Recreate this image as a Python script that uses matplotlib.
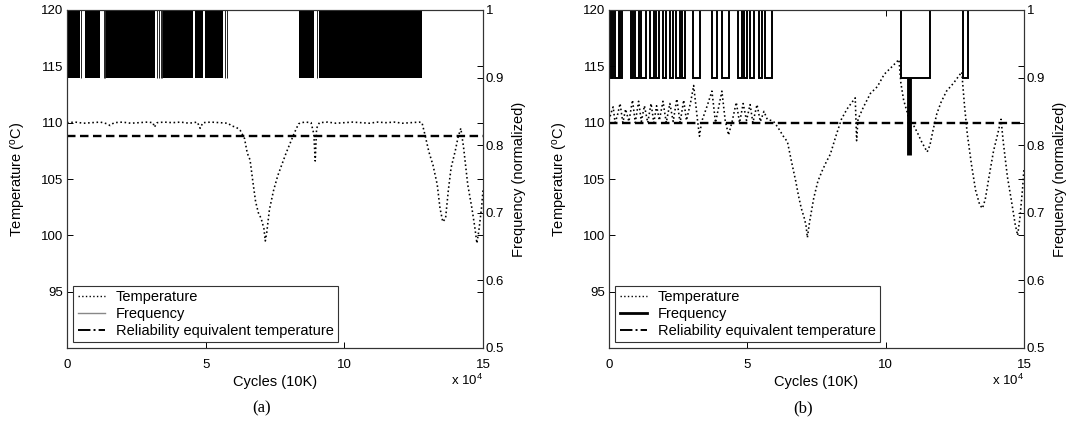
import matplotlib
matplotlib.use("Agg")
import matplotlib.pyplot as plt
from matplotlib.lines import Line2D

plt.rcParams['font.family'] = ['Liberation Sans', 'DejaVu Sans']
plt.rcParams['mathtext.fontset'] = 'custom'
plt.rcParams['mathtext.rm'] = 'Liberation Sans'
plt.rcParams['mathtext.it'] = 'Liberation Sans:italic'

# ---- panel (a) ----
temp_a_x = [0.0, 0.3, 0.6, 0.9, 1.2, 1.45, 1.55, 1.7, 2.0, 2.3, 2.6, 2.9, 3.1, 3.15, 3.25,
            3.5, 3.8, 4.1, 4.4, 4.7, 4.8, 4.9, 5.2, 5.5, 5.8, 5.95, 6.1, 6.25, 6.4, 6.5,
            6.6, 6.7, 6.8, 6.9, 7.0, 7.1, 7.15, 7.2, 7.3, 7.45, 7.6, 7.75, 7.9, 8.05, 8.2,
            8.35, 8.45, 8.6, 8.8, 8.9, 8.95, 9.0, 9.1, 9.4, 9.7, 10.0, 10.3, 10.6, 10.9,
            11.2, 11.5, 11.8, 12.1, 12.4, 12.7, 12.8, 12.9, 13.05, 13.2, 13.35, 13.45,
            13.55, 13.65, 13.75, 13.85, 14.0, 14.1, 14.2, 14.3, 14.45, 14.6, 14.7, 14.78,
            14.85, 14.95, 15.0]
temp_a_y = [110.0, 110.05, 109.95, 110.0, 110.05, 109.9, 109.75, 110.0, 110.05, 109.95,
            110.0, 110.05, 110.0, 109.6, 110.0, 110.05, 110.0, 110.05, 109.95, 110.05,
            109.5, 110.0, 110.05, 110.0, 109.95, 109.7, 109.6, 109.3, 108.6, 107.3, 106.7,
            104.8, 103.0, 102.0, 101.5, 100.6, 99.5, 100.2, 102.3, 104.0, 105.3, 106.3,
            107.3, 108.2, 109.1, 109.9, 110.0, 110.05, 110.0, 109.0, 106.6, 109.5, 110.0,
            110.05, 109.95, 110.0, 110.05, 110.0, 109.95, 110.05, 110.0, 110.05, 109.95,
            110.0, 110.05, 110.0, 109.0, 107.4, 106.2, 104.5, 102.4, 101.2, 101.5, 104.0,
            106.0, 107.5, 108.7, 109.5, 107.8, 104.5, 102.4, 100.8, 99.3, 100.4, 102.5,
            104.0]
rel_temp_a = 108.8
# dense 1 <-> 0.9 switching regions
blocks_a_start = [0.05, 0.66, 1.41, 3.47, 4.62, 4.96, 8.38, 9.09]
blocks_a_end = [0.47, 1.19, 3.19, 4.53, 4.89, 5.61, 8.92, 12.79]
single_switch_a = [0.52, 1.33, 1.38, 3.23, 3.31, 3.38, 3.44, 5.70, 5.76, 9.0]

# ---- panel (b) ----
temp_b_x = [0.0, 0.08, 0.15, 0.22, 0.3, 0.4, 0.5, 0.6, 0.72, 0.85, 0.95, 1.07, 1.17, 1.28,
            1.4, 1.52, 1.62, 1.72, 1.82, 1.95, 2.07, 2.2, 2.32, 2.45, 2.57, 2.7, 2.8, 2.95,
            3.06, 3.2, 3.27, 3.35, 3.55, 3.72, 3.85, 3.95, 4.08, 4.2, 4.32, 4.45, 4.6, 4.72,
            4.85, 4.97, 5.1, 5.2, 5.35, 5.47, 5.6, 5.72, 5.85, 5.95, 6.1, 6.3, 6.45, 6.6,
            6.75, 6.85, 6.95, 7.05, 7.12, 7.17, 7.25, 7.4, 7.55, 7.7, 7.85, 8.0, 8.2, 8.4,
            8.6, 8.9, 8.95, 9.0, 9.2, 9.45, 9.7, 9.95, 10.2, 10.48, 10.55, 10.65, 10.78,
            10.85, 11.0, 11.15, 11.3, 11.5, 11.6, 11.7, 11.85, 12.0, 12.2, 12.45, 12.6,
            12.75, 12.85, 12.95, 13.1, 13.25, 13.4, 13.5, 13.6, 13.75, 13.9, 14.05, 14.17,
            14.25, 14.4, 14.55, 14.68, 14.77, 14.85, 14.95, 15.0]
temp_b_y = [110.2, 110.9, 111.4, 110.0, 110.6, 111.7, 110.0, 111.2, 110.1, 112.0, 110.0,
            111.9, 110.1, 111.5, 110.0, 111.7, 110.0, 111.5, 110.2, 111.9, 110.0, 111.7,
            110.1, 112.1, 110.0, 112.0, 110.2, 111.8, 113.3, 110.2, 108.8, 110.1, 111.5,
            112.8, 110.0, 111.2, 112.8, 110.2, 108.9, 110.1, 111.8, 110.0, 111.7, 110.2,
            111.6, 110.0, 111.6, 110.1, 111.0, 110.3, 110.2, 110.1, 109.6, 108.8, 108.3,
            106.5, 104.8, 103.5, 102.4, 101.6, 100.9, 99.8, 101.2, 103.3, 104.8, 105.7,
            106.5, 107.2, 108.8, 110.3, 111.2, 112.2, 108.4, 110.3, 111.4, 112.6, 113.2,
            114.3, 114.9, 115.6, 113.5, 112.0, 110.9, 110.2, 109.8, 109.1, 108.3, 107.4,
            108.0, 109.2, 110.8, 111.8, 112.8, 113.5, 114.0, 114.5, 111.5, 109.0, 106.3,
            104.0, 102.7, 102.4, 103.2, 105.4, 107.5, 109.0, 110.3, 108.3, 105.2, 103.0,
            101.0, 100.0, 101.5, 104.2, 106.0]
rel_temp_b = 110.0
# intervals where frequency drops from 1 to 0.9
down_b_start = [0.06, 0.23, 0.40, 0.79, 0.95, 1.17, 1.49, 1.70, 1.94, 2.19, 2.43, 2.64,
                3.03, 3.71, 4.09, 4.67, 4.87, 5.08, 5.42, 5.64, 10.54, 12.78]
down_b_end = [0.16, 0.35, 0.47, 0.88, 1.07, 1.32, 1.61, 1.80, 2.07, 2.31, 2.55, 2.76,
              3.30, 3.90, 4.34, 4.79, 4.99, 5.23, 5.53, 5.88, 11.59, 12.98]
dip_b_x = 10.84
dip_b_low = 0.785

fig = plt.figure(figsize=(10.82, 4.22), dpi=100)
ax_a = fig.add_axes([67 / 1082, 74 / 422, 416 / 1082, 338 / 422])
ax_b = fig.add_axes([609 / 1082, 74 / 422, 415 / 1082, 338 / 422])

spine_c = '#333333'


def style(ax, ax2):
    ax.set_xlim(0, 15)
    ax.set_ylim(90, 120)
    ax.set_xticks([0, 5, 10, 15])
    ax.set_xticklabels(['0', '5', '10', '15'])
    ax.set_yticks([95, 100, 105, 110, 115, 120])
    ax.tick_params(direction='in', top=True, right=True, length=4, width=0.7,
                   labelsize=9.5, colors='black', pad=3)
    ax.tick_params(axis='x', pad=8)
    ax2.set_ylim(0.5, 1.0)
    ax2.set_yticks([0.5, 0.6, 0.7, 0.8, 0.9, 1.0])
    ax2.set_yticklabels(['0.5', '0.6', '0.7', '0.8', '0.9', '1'])
    ax2.tick_params(direction='in', length=4, width=0.7, labelsize=9.5, pad=2)
    for a in (ax, ax2):
        for s in a.spines.values():
            s.set_color(spine_c)
            s.set_linewidth(0.8)
    ax.set_xlabel('Cycles (10K)', fontsize=10.5, labelpad=3)
    ax.set_ylabel(r'Temperature ($^{\rm o}$C)', fontsize=10.5, labelpad=9)
    ax2.set_ylabel('Frequency (normalized)', fontsize=10.5, labelpad=6)
    ax.text(1.0, -0.095, r'x 10$^4$', transform=ax.transAxes, ha='right', va='center',
            fontsize=9.5)


# panel (a)
ax2_a = ax_a.twinx()
ax_a.plot(temp_a_x, temp_a_y, ':', color='black', lw=1.15)
ax_a.plot([0, 15], [rel_temp_a, rel_temp_a], color='black', lw=1.7, dashes=(3.6, 1.9))
for s, e in zip(blocks_a_start, blocks_a_end):
    ax2_a.fill_between([s, e], 0.9, 1.0, color='black', lw=0)
ax2_a.vlines(single_switch_a, 0.9, 1.0, color='black', lw=0.6)
style(ax_a, ax2_a)

# panel (b)
ax2_b = ax_b.twinx()
ax_b.plot(temp_b_x, temp_b_y, ':', color='black', lw=1.15)
ax_b.plot([0, 15], [rel_temp_b, rel_temp_b], color='black', lw=1.7, dashes=(3.6, 1.9))
fx, fy = [0.0], [1.0]
for s, e in zip(down_b_start, down_b_end):
    fx += [s, s, e, e]
    fy += [1.0, 0.9, 0.9, 1.0]
fx.append(15.0)
fy.append(1.0)
ax2_b.plot(fx, fy, color='black', lw=1.4, solid_joinstyle='miter')
ax2_b.vlines([dip_b_x], dip_b_low, 0.9, color='black', lw=3.5)
style(ax_b, ax2_b)

# legends
for ax2, freq_lw, freq_c in ((ax2_a, 1.0, '#888888'), (ax2_b, 2.0, 'black')):
    handles = [Line2D([], [], ls=':', color='black', lw=1.0),
               Line2D([], [], ls='-', color=freq_c, lw=freq_lw),
               Line2D([], [], ls='-.', color='black', lw=1.4)]
    leg = ax2.legend(handles, ['Temperature', 'Frequency',
                               'Reliability equivalent temperature'],
                     loc='lower left', bbox_to_anchor=(0.008, 0.008), fontsize=10.5,
                     frameon=True, fancybox=False, framealpha=1, edgecolor=spine_c,
                     borderpad=0.3, labelspacing=0.2, handlelength=1.9,
                     handletextpad=0.7, borderaxespad=0.2)
    leg.get_frame().set_linewidth(0.8)

fig.text(262 / 1082, 1 - 408 / 422, '(a)', ha='center', va='center', fontsize=12,
         family=['Liberation Serif', 'DejaVu Serif'])
fig.text(803 / 1082, 1 - 408 / 422, '(b)', ha='center', va='center', fontsize=12,
         family=['Liberation Serif', 'DejaVu Serif'])

fig.savefig('out.png', dpi=100)
